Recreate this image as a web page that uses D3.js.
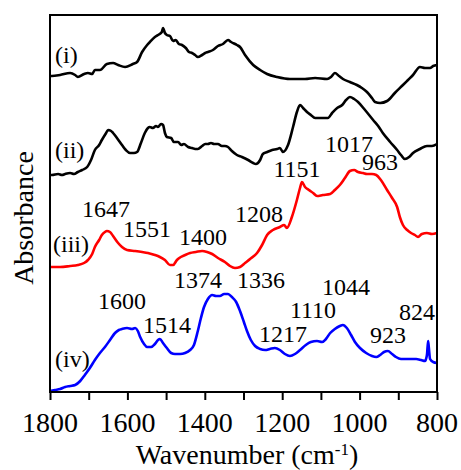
<!DOCTYPE html>
<html>
<head>
<meta charset="utf-8">
<script src="https://cdn.jsdelivr.net/npm/d3@7"></script>
<style>
  html, body { margin: 0; padding: 0; background: #fff; }
  svg { display: block; }
</style>
</head>
<body>
<svg id="chart" width="461" height="470"></svg>
<script>
// FTIR spectra, offset vertically (arbitrary absorbance units)
const wnI = [1800,1795,1774,1748,1735,1728,1712,1702,1691,1684,1671,1653,1637,1624,1606,1586,1575,1562,1549,1542,1529,1521,1511,1508,1503,1498,1490,1482,1475,1467,1459,1449,1441,1433,1425,1418,1407,1399,1392,1379,1366,1353,1340,1332,1317,1309,1296,1275,1257,1239,1213,1180,1141,1115,1084,1074,1064,1053,1043,1025,1007,994,981,968,960,947,929,909,888,875,862,844,831,818,810,800];
const absI = [3.16,3.16,3.17,3.19,3.17,3.15,3.18,3.19,3.18,3.22,3.22,3.28,3.29,3.27,3.25,3.28,3.30,3.40,3.47,3.50,3.55,3.57,3.60,3.64,3.59,3.57,3.56,3.51,3.52,3.48,3.47,3.44,3.40,3.39,3.37,3.35,3.37,3.39,3.40,3.42,3.46,3.48,3.52,3.50,3.47,3.45,3.37,3.27,3.22,3.18,3.15,3.13,3.13,3.14,3.13,3.15,3.19,3.16,3.13,3.10,3.07,3.04,3.00,2.94,2.90,2.89,2.91,2.99,3.07,3.12,3.17,3.25,3.24,3.24,3.26,3.27];

const wnII = [1800,1795,1779,1769,1761,1748,1738,1728,1717,1704,1694,1684,1673,1666,1655,1650,1642,1637,1627,1614,1604,1593,1583,1575,1565,1555,1547,1542,1534,1526,1521,1513,1508,1503,1498,1487,1480,1469,1461,1454,1443,1433,1425,1418,1407,1399,1392,1384,1376,1366,1356,1348,1340,1330,1317,1304,1288,1275,1268,1257,1250,1239,1226,1213,1206,1198,1185,1172,1162,1154,1146,1136,1126,1115,1097,1082,1071,1058,1045,1035,1025,1014,1004,986,965,952,940,921,903,893,883,872,862,844,826,813,800];
const absII = [2.17,2.17,2.18,2.17,2.18,2.19,2.18,2.20,2.22,2.25,2.32,2.42,2.47,2.52,2.59,2.62,2.61,2.59,2.54,2.47,2.42,2.39,2.39,2.40,2.49,2.59,2.64,2.65,2.64,2.66,2.65,2.68,2.67,2.59,2.55,2.54,2.50,2.50,2.47,2.48,2.45,2.44,2.43,2.43,2.46,2.48,2.48,2.49,2.48,2.48,2.46,2.46,2.45,2.41,2.37,2.35,2.32,2.29,2.28,2.32,2.38,2.40,2.42,2.43,2.44,2.40,2.47,2.65,2.80,2.87,2.84,2.80,2.77,2.74,2.74,2.74,2.79,2.84,2.87,2.92,2.95,2.93,2.90,2.82,2.72,2.66,2.59,2.50,2.42,2.37,2.33,2.35,2.39,2.43,2.46,2.46,2.48];

const wnIII = [1800,1774,1748,1728,1712,1702,1691,1684,1673,1666,1658,1653,1645,1637,1624,1614,1601,1580,1562,1547,1529,1516,1503,1490,1482,1472,1462,1451,1438,1423,1407,1394,1381,1366,1348,1335,1322,1309,1296,1283,1265,1252,1239,1224,1206,1195,1188,1175,1162,1154,1149,1141,1131,1120,1110,1095,1076,1064,1051,1038,1025,1014,1004,991,981,968,957,945,929,916,903,896,888,877,867,857,849,839,826,813,800];
const absIII = [1.25,1.25,1.26,1.27,1.29,1.32,1.38,1.45,1.52,1.57,1.60,1.61,1.60,1.56,1.49,1.45,1.42,1.41,1.40,1.39,1.37,1.35,1.32,1.27,1.27,1.32,1.35,1.37,1.39,1.40,1.41,1.40,1.38,1.34,1.30,1.26,1.24,1.25,1.29,1.33,1.39,1.47,1.57,1.62,1.65,1.67,1.64,1.75,1.92,2.04,2.10,2.05,2.02,1.99,1.96,1.97,1.98,2.02,2.07,2.14,2.21,2.22,2.20,2.19,2.18,2.18,2.17,2.12,2.02,1.94,1.85,1.75,1.67,1.62,1.59,1.57,1.55,1.58,1.59,1.58,1.59];

const wnIV = [1800,1787,1774,1761,1748,1735,1722,1710,1697,1684,1671,1658,1645,1632,1622,1614,1601,1588,1580,1573,1567,1557,1549,1539,1529,1521,1516,1508,1498,1487,1477,1464,1451,1438,1428,1418,1410,1402,1392,1381,1371,1361,1350,1340,1330,1319,1309,1299,1291,1281,1270,1257,1244,1232,1219,1206,1193,1180,1167,1154,1139,1126,1110,1097,1087,1076,1064,1051,1043,1033,1022,1012,999,983,968,957,947,937,927,916,906,893,880,867,854,841,831,826,823,821,818,810,800];
const absIV = [0.01,0.02,0.03,0.05,0.06,0.07,0.11,0.17,0.24,0.32,0.39,0.45,0.52,0.59,0.62,0.63,0.64,0.63,0.64,0.61,0.55,0.48,0.45,0.45,0.48,0.52,0.53,0.49,0.44,0.39,0.38,0.38,0.39,0.42,0.47,0.61,0.74,0.85,0.93,0.97,0.96,0.96,0.98,0.98,0.95,0.90,0.81,0.70,0.61,0.52,0.46,0.43,0.42,0.43,0.44,0.42,0.38,0.36,0.38,0.42,0.47,0.50,0.51,0.50,0.53,0.59,0.63,0.66,0.67,0.64,0.57,0.50,0.44,0.39,0.36,0.35,0.37,0.40,0.41,0.38,0.35,0.33,0.33,0.33,0.33,0.32,0.31,0.37,0.51,0.44,0.33,0.30,0.29];

const seriesNames = ["(i)", "(ii)", "(iii)", "(iv)"];
const seriesColors = ["#000000", "#000000", "#ff0000", "#0000ff"];

// Peak assignments (cm-1) annotated on spectra (iii) and (iv)
const peakLabels = ["1647","1551","1400","1208","1151","1017","963","1600","1514","1374","1336","1217","1110","1044","923","824"];
const peakLabelPos = [[106,217],[147,237],[203,245],[259,222],[297,177],[349,152],[380,170],[122,309],[167,333],[198,288],[261,288],[283,342],[313,318],[346,295],[388,343],[417,320]];
const seriesLabelPos = [[55,63],[55,158],[53,252],[55,367]];

const xTicks = [1800,1700,1600,1500,1400,1300,1200,1100,1000,900,800];
const xTickLabels = [1800,1600,1400,1200,1000,800];

const FONT = "\"Liberation Serif\", \"Times New Roman\", serif";

const svg = d3.select("#chart");
const plot = { left: 50, right: 437, top: 15, bottom: 392 };

const x = d3.scaleLinear().domain([1800, 800]).range([plot.left, plot.right]);
const y = d3.scaleLinear().domain([0, 3.77]).range([plot.bottom, plot.top]);

const series = [
  { wn: wnI, a: absI },
  { wn: wnII, a: absII },
  { wn: wnIII, a: absIII },
  { wn: wnIV, a: absIV }
];

const line = d3.line()
  .x(d => x(d[0]))
  .y(d => y(d[1]))
  .curve(d3.curveMonotoneX);

series.forEach((s, i) => {
  svg.append("path")
    .datum(s.wn.map((w, k) => [w, s.a[k]]))
    .attr("fill", "none")
    .attr("stroke", seriesColors[i])
    .attr("stroke-width", 2.6)
    .attr("stroke-linejoin", "round")
    .attr("d", line);
});

// Frame
svg.append("rect")
  .attr("x", plot.left).attr("y", plot.top)
  .attr("width", plot.right - plot.left).attr("height", plot.bottom - plot.top)
  .attr("fill", "none").attr("stroke", "#000").attr("stroke-width", 2);

// Bottom axis: ticks every 100, labels every 200
const gx = svg.append("g")
  .attr("transform", `translate(0,${plot.bottom})`)
  .call(d3.axisBottom(x).tickValues(xTicks).tickSize(8).tickFormat(""));
gx.select(".domain").remove();
gx.selectAll(".tick text").remove();
gx.selectAll(".tick line").attr("stroke", "#000").attr("stroke-width", 2);

svg.append("g")
  .selectAll("text")
  .data(xTickLabels)
  .join("text")
  .attr("x", d => x(d))
  .attr("y", plot.bottom + 40)
  .attr("text-anchor", "middle")
  .attr("font-family", FONT)
  .attr("font-size", 28)
  .attr("fill", "#000")
  .text(d => d);

// Axis titles
const xt = svg.append("text")
  .attr("x", 247).attr("y", 464)
  .attr("text-anchor", "middle")
  .attr("font-family", FONT)
  .attr("font-size", 28);
xt.append("tspan").text("Wavenumber (cm");
xt.append("tspan").attr("dy", -9).attr("font-size", 17).text("-1");
xt.append("tspan").attr("dy", 9).text(")");

svg.append("text")
  .attr("transform", "translate(33,218) rotate(-90)")
  .attr("text-anchor", "middle")
  .attr("font-family", FONT)
  .attr("font-size", 28)
  .text("Absorbance");

// Series labels
svg.selectAll(".slabel")
  .data(seriesNames)
  .join("text")
  .attr("class", "slabel")
  .attr("x", (d, i) => seriesLabelPos[i][0])
  .attr("y", (d, i) => seriesLabelPos[i][1])
  .attr("font-family", FONT)
  .attr("font-size", 24)
  .text(d => d);

// Peak labels
svg.selectAll(".plabel")
  .data(peakLabels)
  .join("text")
  .attr("class", "plabel")
  .attr("x", (d, i) => peakLabelPos[i][0])
  .attr("y", (d, i) => peakLabelPos[i][1])
  .attr("text-anchor", "middle")
  .attr("font-family", FONT)
  .attr("font-size", 24)
  .text(d => d);
</script>
</body>
</html>
